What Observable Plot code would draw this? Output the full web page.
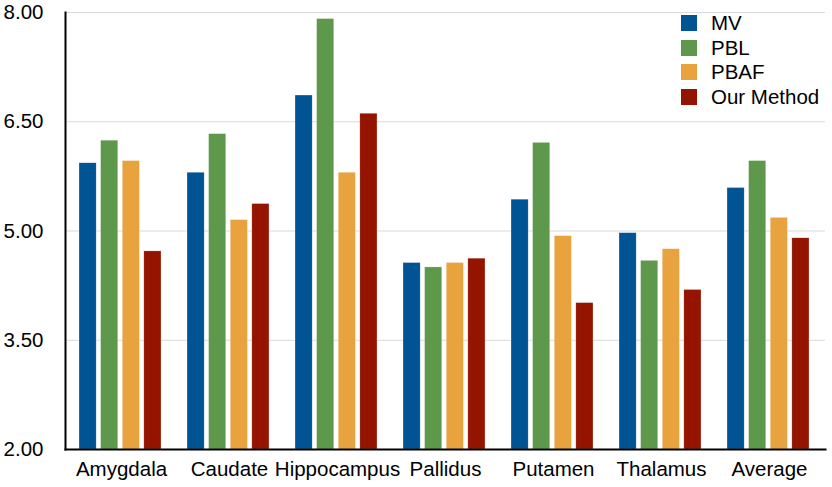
<!DOCTYPE html>
<html>
<head>
<meta charset="utf-8">
<script src="https://cdn.jsdelivr.net/npm/d3@7"></script>
<script src="https://cdn.jsdelivr.net/npm/@observablehq/plot@0.6"></script>
<style>
  html, body { margin: 0; padding: 0; background: #fff; }
  #wrap { position: relative; width: 832px; height: 487px; font-family: "Liberation Sans", Arial, Helvetica, sans-serif; }
  #legend { position: absolute; left: 681px; top: 11px; font-size: 20.5px; color: #000; }
  #legend .row { display: flex; align-items: center; height: 24.5px; }
  #legend .sw { width: 16px; height: 16px; margin-right: 14px; }
</style>
</head>
<body>
<div id="wrap"><div id="legend"></div></div>
<script>
const regions = ["Amygdala", "Caudate", "Hippocampus", "Pallidus", "Putamen", "Thalamus", "Average"];
const methods = ["MV", "PBL", "PBAF", "Our Method"];
const colors = ["#005494", "#5e984a", "#e8a33e", "#951400"];
const mvValues   = [5.93, 5.80, 6.86, 4.56, 5.43, 4.97, 5.59];
const pblValues  = [6.24, 6.33, 7.91, 4.50, 6.21, 4.59, 5.96];
const pbafValues = [5.96, 5.15, 5.80, 4.56, 4.93, 4.75, 5.18];
const ourValues  = [4.72, 5.37, 6.61, 4.62, 4.01, 4.19, 4.90];
const yTicks = [2.0, 3.5, 5.0, 6.5, 8.0];

const series = [mvValues, pblValues, pbafValues, ourValues];

const W = 832, H = 487, mL = 65, mR = 7, mT = 12, mB = 38;
const padInner = 0.22, padOuter = 0.12, gap = 2;
// group bandwidth, used only to split each group into four bar slots
const bw = d3.scaleBand(regions, [mL, W - mR]).paddingInner(padInner).paddingOuter(padOuter).bandwidth();
const slot = (bw + gap) / methods.length;

const barMarks = methods.map((m, j) => {
  const rows = regions.map((r, i) => ({region: r, method: m, value: series[j][i]}));
  return Plot.barY(rows, {
    x: "region", y1: 2, y2: "value", fill: colors[j],
    insetLeft: j * slot, insetRight: (methods.length - 1 - j) * slot + gap,
    stroke: "#fff", strokeWidth: 0.5, strokeOpacity: 0.5
  });
});

const chart = Plot.plot({
  width: W,
  height: H,
  marginLeft: mL,
  marginRight: mR,
  marginTop: mT,
  marginBottom: mB,
  style: {fontFamily: '"Liberation Sans", Arial, Helvetica, sans-serif', fontSize: "20.5px", color: "#000", background: "#fff", overflow: "visible"},
  x: {domain: regions, paddingInner: padInner, paddingOuter: padOuter, label: null},
  y: {domain: [2, 8], label: null},
  marks: [
    Plot.gridY(yTicks, {stroke: "#d9d9d9", strokeOpacity: 1, strokeWidth: 1}),
    ...barMarks,
    Plot.axisY(yTicks, {tickSize: 0, tickPadding: 22, tickFormat: d3.format(".2f"), fontSize: 20.5, fill: "#000", label: null}),
    Plot.axisX({tickSize: 0, tickPadding: 12, fontSize: 20.5, fill: "#000", label: null}),
    Plot.frame({anchor: "left", stroke: "#000", strokeWidth: 2}),
    Plot.frame({anchor: "bottom", stroke: "#000", strokeWidth: 2})
  ]
});
document.getElementById("wrap").prepend(chart);

const legend = document.getElementById("legend");
methods.forEach((m, j) => {
  const row = document.createElement("div");
  row.className = "row";
  const sw = document.createElement("div");
  sw.className = "sw";
  sw.style.background = colors[j];
  const t = document.createElement("span");
  t.textContent = m;
  row.append(sw, t);
  legend.append(row);
});
</script>
</body>
</html>
